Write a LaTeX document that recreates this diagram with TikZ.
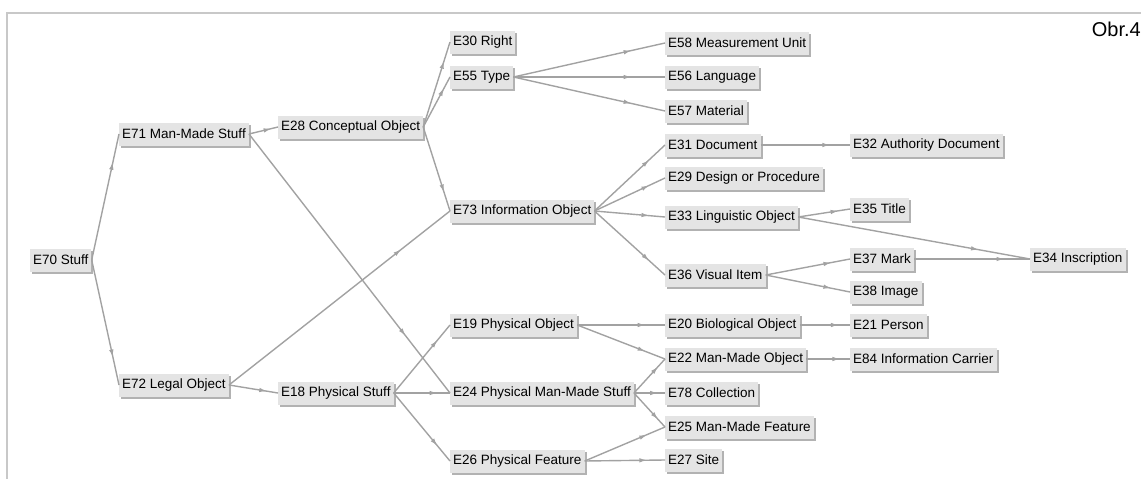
\documentclass[tikz,border=0pt]{standalone}
\usepackage{fontspec}
\setmainfont{Liberation Sans}
\usetikzlibrary{arrows.meta,decorations.markings,shadows}

\definecolor{Link}{HTML}{A2A2A2}
\definecolor{Box}{HTML}{E4E4E4}
\definecolor{Shade}{HTML}{B2B2B2}
\definecolor{Frame}{HTML}{C8C8C8}

\begin{document}
\begin{tikzpicture}[x=1pt, y=-1pt,
  entity/.style={anchor=west, fill=Box, inner xsep=3pt, inner ysep=0pt, minimum height=23pt,
    font=\fontsize{13.5}{15}\selectfont,
    general shadow={fill=Shade, shadow xshift=2pt, shadow yshift=-2pt}},
  link/.style={Link, line width=1.4pt, postaction={decorate},
    decoration={markings, mark=at position 0.78 with {\arrow{Latex[length=8pt,width=4.5pt]}}}}]

 \useasboundingbox (0,0) rectangle (1141,479);

 %%%%%%%%%% Cadre %%%%%%%%%%
 \coordinate (fa) at (7,479);
 \coordinate (fb) at (7,13);
 \coordinate (fc) at (1141,13);
 \draw [Frame, line width=1.5pt] (fa) -- (fb) -- (fc);
 \node [anchor=east, inner sep=0pt, font=\fontsize{20}{22}\selectfont] (obr) at (1141,29) {Obr.4};

 %%%%%%%%%% Entites %%%%%%%%%%
 \node [entity] (e70) at (30,260) {E70 Stuff};
 \node [entity] (e71) at (119,134) {E71 Man-Made Stuff};
 \node [entity] (e72) at (119,385) {E72 Legal Object};
 \node [entity] (e28) at (278,127) {E28 Conceptual Object};
 \node [entity] (e18) at (278,393) {E18 Physical Stuff};

 \node [entity] (e30) at (450,42) {E30 Right};
 \node [entity] (e55) at (450,77) {E55 Type};
 \node [entity] (e73) at (450,211) {E73 Information Object};
 \node [entity] (e19) at (450,325) {E19 Physical Object};
 \node [entity] (e24) at (450,393) {E24 Physical Man-Made Stuff};
 \node [entity] (e26) at (450,461) {E26 Physical Feature};

 \node [entity] (e58) at (665,43) {E58 Measurement Unit};
 \node [entity] (e56) at (665,77) {E56 Language};
 \node [entity] (e57) at (665,111) {E57 Material};
 \node [entity] (e31) at (665,145) {E31 Document};
 \node [entity] (e29) at (665,178) {E29 Design or Procedure};
 \node [entity] (e33) at (665,217) {E33 Linguistic Object};
 \node [entity] (e36) at (665,275) {E36 Visual Item};
 \node [entity] (e20) at (665,325) {E20 Biological Object};
 \node [entity] (e22) at (665,359) {E22 Man-Made Object};
 \node [entity] (e78) at (665,393) {E78 Collection};
 \node [entity] (e25) at (665,427) {E25 Man-Made Feature};
 \node [entity] (e27) at (665,460) {E27 Site};

 \node [entity] (e32) at (850,145) {E32 Authority Document};
 \node [entity] (e35) at (850,209) {E35 Title};
 \node [entity] (e37) at (850,259) {E37 Mark};
 \node [entity] (e38) at (850,292) {E38 Image};
 \node [entity] (e21) at (850,325) {E21 Person};
 \node [entity] (e84) at (850,359) {E84 Information Carrier};

 \node [entity] (e34) at (1030,259) {E34 Inscription};

 %%%%%%%%%% Liens %%%%%%%%%%
 \draw [link] (e70.east) -- (e71.west);
 \draw [link] (e70.east) -- (e72.west);
 \draw [link] (e71.east) -- (e28.west);
 \draw [link] (e71.east) -- (e24.west);
 \draw [link] (e72.east) -- (e73.west);
 \draw [link] (e72.east) -- (e18.west);

 % Conceptual
 \draw [link] (e28.east) -- (e30.west);
 \draw [link] (e28.east) -- (e55.west);
 \draw [link] (e28.east) -- (e73.west);
 \draw [link] (e55.east) -- (e58.west);
 \draw [link] (e55.east) -- (e56.west);
 \draw [link] (e55.east) -- (e57.west);
 \draw [link] (e73.east) -- (e31.west);
 \draw [link] (e73.east) -- (e29.west);
 \draw [link] (e73.east) -- (e33.west);
 \draw [link] (e73.east) -- (e36.west);
 \draw [link] (e31.east) -- (e32.west);
 \draw [link] (e33.east) -- (e35.west);
 \draw [link] (e33.east) -- (e34.west);
 \draw [link] (e36.east) -- (e37.west);
 \draw [link] (e36.east) -- (e38.west);
 \draw [link] (e37.east) -- (e34.west);

 % Physical
 \draw [link] (e18.east) -- (e19.west);
 \draw [link] (e18.east) -- (e24.west);
 \draw [link] (e18.east) -- (e26.west);
 \draw [link] (e19.east) -- (e20.west);
 \draw [link] (e19.east) -- (e22.west);
 \draw [link] (e24.east) -- (e22.west);
 \draw [link] (e24.east) -- (e78.west);
 \draw [link] (e24.east) -- (e25.west);
 \draw [link] (e26.east) -- (e25.west);
 \draw [link] (e26.east) -- (e27.west);
 \draw [link] (e20.east) -- (e21.west);
 \draw [link] (e22.east) -- (e84.west);

\end{tikzpicture}
\end{document}
